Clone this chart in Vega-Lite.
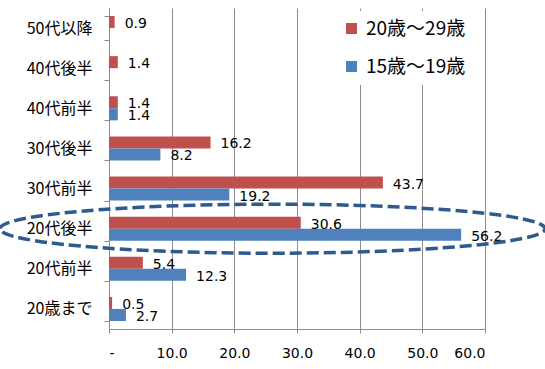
{
  "$schema": "https://vega.github.io/schema/vega-lite/v6.json",
  "width": 376,
  "height": 321,
  "autosize": {"type": "none"},
  "padding": {"left": 109, "top": 8, "right": 60, "bottom": 40},
  "background": "white",
  "config": {"view": {"stroke": null}, "font": "DejaVu Sans"},
  "datasets": {
    "bars": [
      {"category": "50代以降", "series": "20歳～29歳", "value": 0.9},
      {"category": "40代後半", "series": "20歳～29歳", "value": 1.4},
      {"category": "40代前半", "series": "20歳～29歳", "value": 1.4},
      {"category": "40代前半", "series": "15歳～19歳", "value": 1.4},
      {"category": "30代後半", "series": "20歳～29歳", "value": 16.2},
      {"category": "30代後半", "series": "15歳～19歳", "value": 8.2},
      {"category": "30代前半", "series": "20歳～29歳", "value": 43.7},
      {"category": "30代前半", "series": "15歳～19歳", "value": 19.2},
      {"category": "20代後半", "series": "20歳～29歳", "value": 30.6},
      {"category": "20代後半", "series": "15歳～19歳", "value": 56.2},
      {"category": "20代前半", "series": "20歳～29歳", "value": 5.4},
      {"category": "20代前半", "series": "15歳～19歳", "value": 12.3},
      {"category": "20歳まで", "series": "20歳～29歳", "value": 0.5},
      {"category": "20歳まで", "series": "15歳～19歳", "value": 2.7}
    ],
    "highlight": [
      {"category": "20代後半", "value": 26.1}
    ]
  },
  "layer": [
    {
      "data": {"name": "bars"},
      "mark": {"type": "bar"},
      "encoding": {
        "y": {
          "field": "category", "type": "nominal",
          "sort": ["50代以降", "40代後半", "40代前半", "30代後半", "30代前半", "20代後半", "20代前半", "20歳まで"],
          "scale": {"paddingInner": 0.4, "paddingOuter": 0.2},
          "axis": {
            "title": null, "grid": false, "domain": true, "domainColor": "#8c8c8c",
            "ticks": true, "tickBand": "extent", "tickSize": 5, "tickColor": "#8c8c8c",
            "labelFont": "Noto Sans CJK JP", "labelFontSize": 16, "labelColor": "#000000",
            "labelPadding": 12
          }
        },
        "yOffset": {
          "field": "series", "type": "nominal",
          "sort": ["20歳～29歳", "15歳～19歳"],
          "scale": {"paddingInner": 0, "paddingOuter": 0}
        },
        "x": {
          "field": "value", "type": "quantitative",
          "scale": {"domain": [0, 60], "nice": false},
          "axis": {
            "title": null, "values": [0, 10, 20, 30, 40, 50, 60],
            "labelExpr": "datum.value == 0 ? '-' : format(datum.value, '.1f')",
            "grid": true, "gridColor": "#8c8c8c", "gridWidth": 1,
            "domain": true, "domainColor": "#8c8c8c",
            "ticks": true, "tickSize": 4, "tickColor": "#8c8c8c",
            "labelFont": "DejaVu Sans", "labelFontSize": 14, "labelColor": "#000000",
            "labelPadding": 13
          }
        },
        "color": {
          "field": "series", "type": "nominal",
          "sort": ["20歳～29歳", "15歳～19歳"],
          "scale": {"domain": ["20歳～29歳", "15歳～19歳"], "range": ["#C0504D", "#4F81BD"]},
          "legend": {
            "title": null, "orient": "none", "legendX": 225, "legendY": 3,
            "fillColor": "white", "padding": 8,
            "symbolType": "square", "symbolSize": 121, "symbolStrokeWidth": 0, "symbolOpacity": 1,
            "labelFont": "Noto Sans CJK JP", "labelFontSize": 19, "labelColor": "#000000",
            "labelOffset": 5, "rowPadding": 18
          }
        }
      }
    },
    {
      "data": {"name": "bars"},
      "mark": {"type": "text", "align": "left", "baseline": "middle", "dx": 10, "dy": 2, "font": "DejaVu Sans", "fontSize": 14, "color": "#000000"},
      "encoding": {
        "y": {"field": "category", "type": "nominal", "sort": ["50代以降", "40代後半", "40代前半", "30代後半", "30代前半", "20代後半", "20代前半", "20歳まで"]},
        "yOffset": {"field": "series", "type": "nominal", "sort": ["20歳～29歳", "15歳～19歳"]},
        "x": {"field": "value", "type": "quantitative"},
        "text": {"field": "value", "type": "quantitative", "format": ".1f"}
      }
    },
    {
      "data": {"name": "highlight"},
      "mark": {
        "type": "point",
        "shape": "M-1,0 C-1,-0.0497 -0.5523,-0.09 0,-0.09 C0.5523,-0.09 1,-0.0497 1,0 C1,0.0497 0.5523,0.09 0,0.09 C-0.5523,0.09 -1,0.0497 -1,0 Z",
        "size": 297025, "filled": false, "stroke": "#2F5A8E", "strokeWidth": 3.5,
        "strokeDash": [12, 5], "opacity": 1
      },
      "encoding": {
        "y": {"field": "category", "type": "nominal", "sort": ["50代以降", "40代後半", "40代前半", "30代後半", "30代前半", "20代後半", "20代前半", "20歳まで"]},
        "x": {"field": "value", "type": "quantitative"}
      }
    }
  ]
}
